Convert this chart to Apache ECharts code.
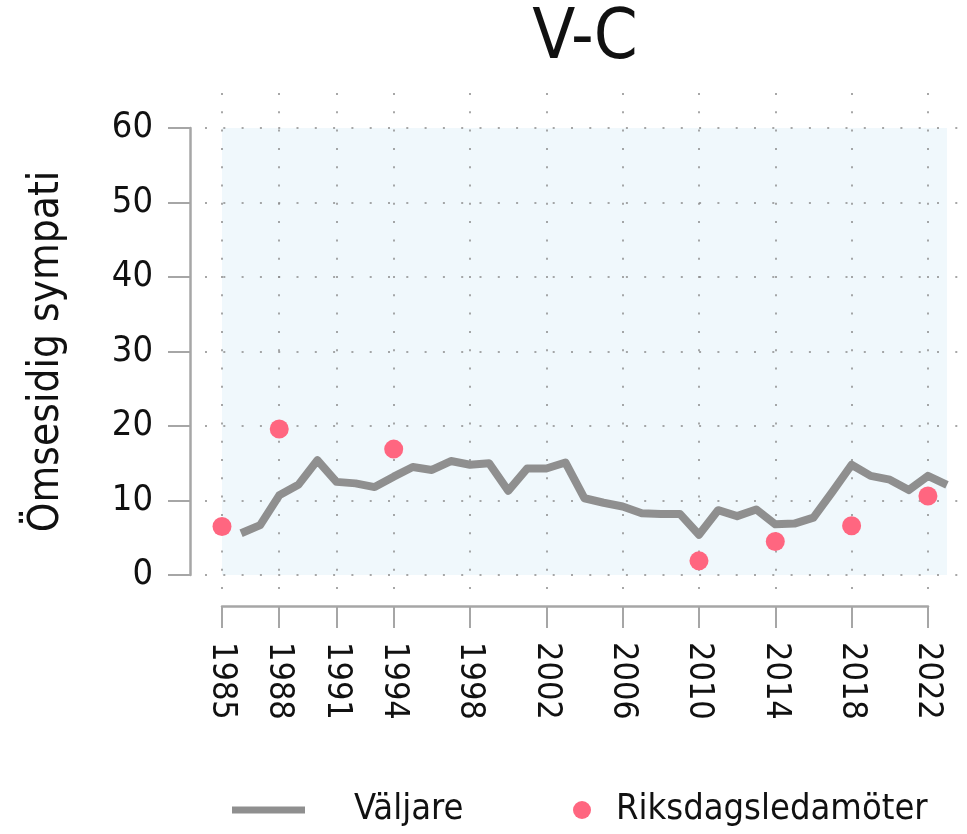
<!DOCTYPE html>
<html>
<head>
<meta charset="utf-8">
<script src="https://cdn.jsdelivr.net/npm/echarts@6/dist/echarts.min.js"></script>
<style>
  html, body { margin: 0; padding: 0; background: #fff; }
  #chart { width: 967px; height: 834px; }
</style>
</head>
<body>
<div id="chart"></div>
<script>
// Väljare (line), one value per year
const voterYears = [1986, 1987, 1988, 1989, 1990, 1991, 1992, 1993, 1994, 1995,
  1996, 1997, 1998, 1999, 2000, 2001, 2002, 2003, 2004, 2005,
  2006, 2007, 2008, 2009, 2010, 2011, 2012, 2013, 2014, 2015,
  2016, 2017, 2018, 2019, 2020, 2021, 2022, 2023]
const voterValues = [5.6, 6.7, 10.7, 12.1, 15.4, 12.5, 12.3, 11.8, 13.2, 14.5,
  14.1, 15.3, 14.8, 15.0, 11.3, 14.3, 14.3, 15.1, 10.3, 9.7,
  9.2, 8.3, 8.2, 8.2, 5.4, 8.7, 7.9, 8.8, 6.8, 6.9,
  7.7, 11.2, 14.8, 13.3, 12.8, 11.4, 13.3, 12.1]

// Riksdagsledamöter (dots)
const mpYears = [1985, 1988, 1994, 2010, 2014, 2018, 2022]
const mpValues = [6.5, 19.6, 16.9, 1.9, 4.5, 6.6, 10.6]

// x tick labels
const tickYears = [1985, 1988, 1991, 1994, 1998, 2002, 2006, 2010, 2014, 2018, 2022]

const FONT = "'Liberation Sans Narrow', 'DejaVu Sans Condensed', sans-serif"
const AXIS_GRAY = '#a6a6a6'
const DOT_LINE = { color: '#8a8a8a', width: 1.5, type: [2, 16.3] }

const chart = echarts.init(document.getElementById('chart'))

const option = {
  textStyle: { fontFamily: FONT },
  title: {
    text: 'V-C',
    left: 580,
    textAlign: 'center',
    top: 0,
    textStyle: { fontFamily: FONT, fontSize: 70, fontWeight: 'normal', color: '#111' }
  },
  legend: [
    {
      data: ['Väljare'],
      left: 232,
      top: 792,
      padding: 0,
      icon: 'rect',
      itemWidth: 73,
      itemHeight: 7,
      textStyle: { fontFamily: FONT, fontSize: 36, color: '#111', padding: [0, 0, 0, 44] }
    },
    {
      data: ['Riksdagsledamöter'],
      left: 573,
      top: 792,
      padding: 0,
      icon: 'circle',
      itemWidth: 18,
      itemHeight: 18,
      textStyle: { fontFamily: FONT, fontSize: 36, color: '#111', padding: [0, 0, 0, 20] }
    }
  ],
  grid: [
    // data area
    { left: 222, right: 20, top: 128, bottom: 259, show: true, backgroundColor: '#f0f8fc', borderWidth: 0 },
    // horizontal dotted lines (run wider than the plot)
    { left: 205, right: 9, top: 128, bottom: 259 },
    // vertical dotted lines + visible x axis
    { left: 222, right: 39, top: 93, bottom: 242 }
  ],
  xAxis: [
    { gridIndex: 0, type: 'value', min: 1985, max: 2023, show: false },
    { gridIndex: 1, type: 'value', min: 0, max: 1, show: false },
    {
      gridIndex: 2,
      type: 'value',
      min: 1985,
      max: 2022,
      position: 'bottom',
      offset: 14,
      axisLine: { show: true, onZero: false, lineStyle: { color: AXIS_GRAY, width: 2.5 } },
      axisTick: { show: true, length: 22, customValues: tickYears, lineStyle: { color: AXIS_GRAY, width: 2 } },
      axisLabel: {
        customValues: tickYears,
        formatter: v => String(v),
        rotate: -90,
        margin: 36,
        fontSize: 34,
        color: '#111',
        fontFamily: FONT
      },
      splitLine: { show: true, lineStyle: DOT_LINE }
    }
  ],
  yAxis: [
    {
      gridIndex: 0,
      type: 'value',
      min: 0,
      max: 60,
      interval: 10,
      offset: 32,
      name: 'Ömsesidig sympati',
      nameLocation: 'middle',
      nameGap: 122,
      nameTextStyle: { fontFamily: FONT, fontSize: 42, color: '#111' },
      axisLine: { show: true, onZero: false, lineStyle: { color: AXIS_GRAY, width: 2.5 } },
      axisTick: { show: true, length: 22, lineStyle: { color: AXIS_GRAY, width: 2 } },
      axisLabel: { margin: 37, fontSize: 36, color: '#111', fontFamily: FONT },
      splitLine: { show: false }
    },
    {
      gridIndex: 1,
      type: 'value',
      min: 0,
      max: 60,
      interval: 10,
      axisLine: { show: false },
      axisTick: { show: false },
      axisLabel: { show: false },
      splitLine: { show: true, lineStyle: DOT_LINE }
    },
    { gridIndex: 2, type: 'value', min: 0, max: 1, show: false }
  ],
  series: [
    {
      name: 'Väljare',
      type: 'line',
      xAxisIndex: 0,
      yAxisIndex: 0,
      data: voterYears.map((y, i) => [y, voterValues[i]]),
      symbol: 'none',
      color: '#8f8f8f',
      lineStyle: { color: '#8f8f8f', width: 8, join: 'round' },
      z: 3
    },
    {
      name: 'Riksdagsledamöter',
      type: 'scatter',
      xAxisIndex: 0,
      yAxisIndex: 0,
      data: mpYears.map((y, i) => [y, mpValues[i]]),
      symbolSize: 19,
      itemStyle: { color: '#ff6680', opacity: 1 },
      clip: false,
      z: 4
    }
  ]
}

chart.setOption(option)
</script>
</body>
</html>
